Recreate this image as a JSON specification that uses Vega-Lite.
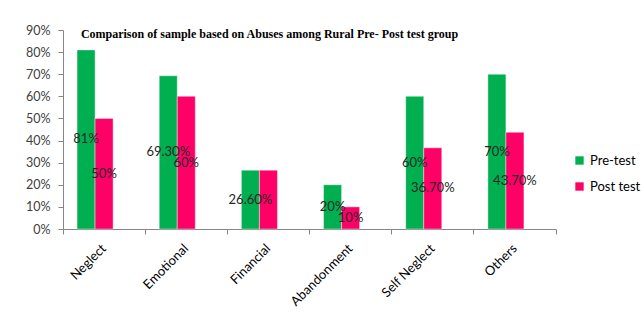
{
  "$schema": "https://vega.github.io/schema/vega-lite/v6.json",
  "width": 493,
  "height": 199,
  "autosize": "none",
  "padding": {"left": 63, "top": 30, "right": 87, "bottom": 95},
  "background": "white",
  "title": {
    "text": "Comparison of sample based on Abuses among Rural Pre- Post test group",
    "font": "Liberation Serif",
    "fontSize": 12,
    "fontWeight": "bold",
    "color": "#000000",
    "anchor": "middle",
    "dx": -40,
    "offset": -26,
    "baseline": "alphabetic"
  },
  "config": {
    "view": {"stroke": null},
    "axis": {
      "grid": false,
      "domainColor": "#868686",
      "tickColor": "#868686",
      "tickSize": 5,
      "labelFont": "Lato",
      "labelFontSize": 12,
      "labelColor": "#404040",
      "labelOverlap": false,
      "title": null
    }
  },
  "data": {
    "values": [
      {"cat": "Neglect", "series": "Pre-test", "value": 0.81, "label": "81%"},
      {"cat": "Neglect", "series": "Post test", "value": 0.50, "label": "50%"},
      {"cat": "Emotional", "series": "Pre-test", "value": 0.693, "label": "69.30%"},
      {"cat": "Emotional", "series": "Post test", "value": 0.60, "label": "60%"},
      {"cat": "Financial", "series": "Pre-test", "value": 0.266, "label": "26.60%"},
      {"cat": "Financial", "series": "Post test", "value": 0.266, "label": ""},
      {"cat": "Abandonment", "series": "Pre-test", "value": 0.20, "label": "20%"},
      {"cat": "Abandonment", "series": "Post test", "value": 0.10, "label": "10%"},
      {"cat": "Self Neglect", "series": "Pre-test", "value": 0.60, "label": "60%"},
      {"cat": "Self Neglect", "series": "Post test", "value": 0.367, "label": "36.70%"},
      {"cat": "Others", "series": "Pre-test", "value": 0.70, "label": "70%"},
      {"cat": "Others", "series": "Post test", "value": 0.437, "label": "43.70%"}
    ]
  },
  "encoding": {
    "x": {
      "field": "cat",
      "type": "nominal",
      "sort": null,
      "scale": {"paddingInner": 0, "paddingOuter": 0},
      "axis": {
        "labelAngle": -45,
        "labelAlign": "right",
        "labelBaseline": "middle",
        "labelFontSize": 13,
        "labelColor": "#000000",
        "labelPadding": 12,
        "bandPosition": 1,
        "tickExtra": true
      }
    },
    "xOffset": {
      "field": "series",
      "type": "nominal",
      "scale": {"domain": ["Pre-test", "Post test", "pad"], "paddingInner": 0, "paddingOuter": 0.78}
    }
  },
  "layer": [
    {
      "mark": {"type": "bar", "stroke": "#ffffff", "strokeWidth": 0.8, "strokeOpacity": 0.5},
      "encoding": {
        "y": {
          "field": "value",
          "type": "quantitative",
          "scale": {"domain": [0, 0.9], "nice": false},
          "axis": {
            "values": [0, 0.1, 0.2, 0.3, 0.4, 0.5, 0.6, 0.7, 0.8, 0.9],
            "format": ".0%",
            "labelPadding": 8,
            "labelFontSize": 12.5
          }
        },
        "color": {
          "field": "series",
          "type": "nominal",
          "scale": {"domain": ["Pre-test", "Post test"], "range": ["#00B050", "#FF0066"]},
          "legend": {
            "title": null,
            "orient": "none",
            "legendX": 510,
            "legendY": 124,
            "symbolType": "square",
            "symbolSize": 70,
            "symbolStrokeWidth": 0,
            "labelFont": "Lato",
            "labelFontSize": 13,
            "labelColor": "#000000",
            "labelOffset": 4,
            "rowPadding": 12
          }
        }
      }
    },
    {
      "transform": [{"calculate": "datum.value / 2", "as": "mid"}],
      "mark": {"type": "text", "font": "Lato", "fontSize": 13, "color": "#262626", "baseline": "middle", "align": "center"},
      "encoding": {
        "y": {
          "field": "mid",
          "type": "quantitative",
          "axis": {
            "values": [0, 0.1, 0.2, 0.3, 0.4, 0.5, 0.6, 0.7, 0.8, 0.9],
            "format": ".0%",
            "labelPadding": 8,
            "labelFontSize": 12.5
          }
        },
        "text": {"field": "label"}
      }
    }
  ]
}
